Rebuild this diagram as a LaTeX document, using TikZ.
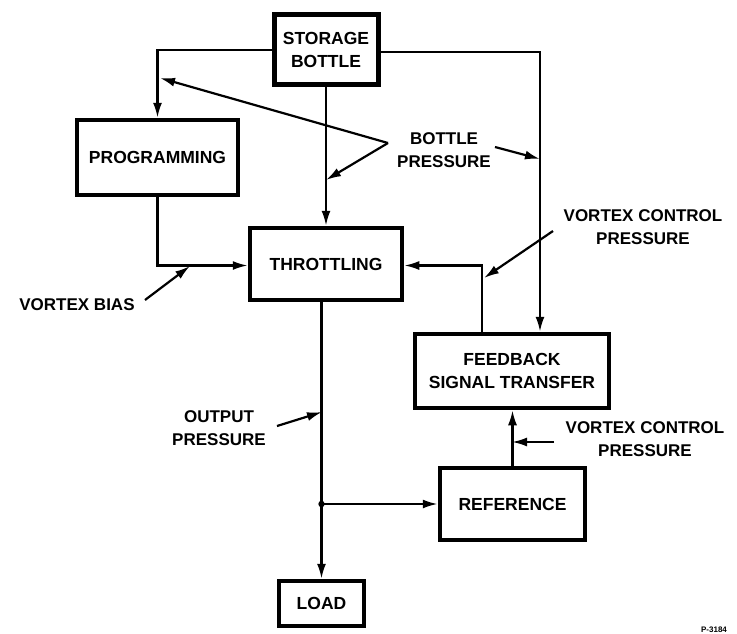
\documentclass[tikz,border=0pt]{standalone}
\usepackage{fontspec}
\setmainfont{Liberation Sans}
\usetikzlibrary{arrows.meta}
\begin{document}
\begin{tikzpicture}[x=1pt,y=-1pt,
  box/.style={draw,line width=4.5pt,inner sep=0pt,align=center,font=\bfseries\fontsize{17.5}{23}\selectfont},
  lbl/.style={inner sep=0pt,align=center,font=\bfseries\fontsize{17}{23}\selectfont},
  conn/.style={line width=2.2pt},
  arr/.style={conn,-{Latex[length=15pt,width=9pt]}}]
\useasboundingbox (0,0) rectangle (737,633);
\fill[white] (0,0) rectangle (737,633);
% boxes
\node[box,line width=5pt,minimum width=104pt,minimum height=70pt] (bottle) at (326,49.5) {STORAGE\\BOTTLE};
\node[box,minimum width=161pt,minimum height=75pt] (prog) at (157.5,157.5) {PROGRAMMING};
\node[box,minimum width=152pt,minimum height=72pt] (throt) at (326,264) {THROTTLING};
\node[box,minimum width=194pt,minimum height=74pt] (fb) at (512,371) {FEEDBACK\\SIGNAL TRANSFER};
\node[box,minimum width=145pt,minimum height=72pt] (ref) at (512.5,504) {REFERENCE};
\node[box,minimum width=85pt,minimum height=45pt] (load) at (321.5,603.5) {LOAD};
% labels
\node[lbl] (bp) at (444,150) {BOTTLE\\PRESSURE};
\node[lbl] (vb) at (77,305) {VORTEX BIAS};
\node[lbl] (vcp1) at (643,227) {VORTEX CONTROL\\PRESSURE};
\node[lbl] (op) at (219,428) {OUTPUT\\PRESSURE};
\node[lbl] (vcp2) at (645,439) {VORTEX CONTROL\\PRESSURE};
\node[inner sep=0pt,font=\bfseries\fontsize{8}{9}\selectfont] (pn) at (714,630) {P-3184};
% main connectors
\draw[arr] ([yshift=-0.5pt]bottle.west) -| (prog.north);
\draw[arr] ([yshift=-2.5pt]bottle.east) -| ([xshift=28pt]fb.north);
\draw[arr] (bottle.south) -- (throt.north);
\draw[arr] (prog.south) |- ([yshift=-1.5pt]throt.west);
\draw[arr] ([xshift=-30pt]fb.north) |- ([yshift=-1.5pt]throt.east);
\draw[arr] (load.north |- throt.south) -- (load.north);
\coordinate (j) at (load.north |- ref.west);
\fill (j) circle (3.2pt);
\draw[arr] (j) -- (ref.west);
\draw[arr] (ref.north) -- (ref.north |- fb.south);
% label pointers
\coordinate (bpv) at (388,143);
\coordinate (bpt1) at (160,78);
\coordinate (bpt2) at (326,180);
\coordinate (bpt3) at (540,159);
\draw[arr] (bpv) -- (bpt1);
\draw[arr] (bpv) -- (bpt2);
\draw[arr] (495,147) -- (bpt3);
\coordinate (vbt) at (190,266);
\draw[arr] (145,300) -- (vbt);
\coordinate (vct1) at (484,278);
\draw[arr] (553,231) -- (vct1);
\coordinate (opt) at (322,412);
\draw[arr] (277,426) -- (opt);
\coordinate (vct2) at (512,442);
\draw[arr] (554,442) -- (vct2);
\end{tikzpicture}
\end{document}
